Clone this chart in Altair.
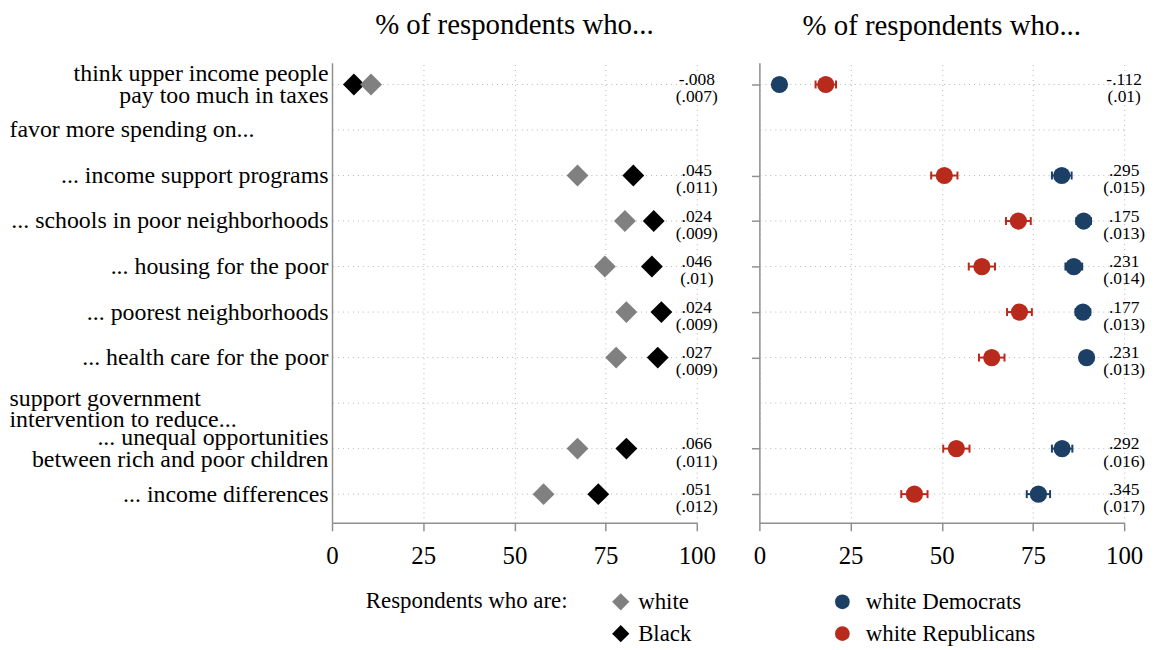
import json
import altair as alt
import pandas as pd

FONT = "Liberation Serif"
AX = "#8f8f8f"
GRID = "#b5b5b5"

# ---------------- data ----------------
rows = [1, 2, 3, 4, 5, 6, 7, 8, 9, 10]
row_labels = [
    "think upper income people\npay too much in taxes",
    "favor more spending on...",
    "... income support programs",
    "... schools in poor neighborhoods",
    "... housing for the poor",
    "... poorest neighborhoods",
    "... health care for the poor",
    "support government\nintervention to reduce...",
    "... unequal opportunities\nbetween rich and poor children",
    "... income differences",
]
header_rows = [2, 8]
data_rows = [1, 3, 4, 5, 6, 7, 9, 10]

race_groups = ["white", "Black"]
white_pct = [10.7, 67.3, 80.3, 74.8, 80.7, 77.9, 67.3, 58.0]
black_pct = [6.0, 82.6, 88.2, 87.7, 90.3, 89.3, 80.7, 73.0]
race_est = ["-.008", ".045", ".024", ".046", ".024", ".027", ".066", ".051"]
race_se = ["(.007)", "(.011)", "(.009)", "(.01)", "(.009)", "(.009)", "(.011)", "(.012)"]

party_groups = ["white Democrats", "white Republicans"]
dem_pct = [5.5, 82.9, 88.9, 86.2, 88.7, 89.7, 83.0, 76.5]
rep_pct = [18.2, 50.7, 71.0, 61.0, 71.3, 63.7, 54.0, 42.5]
dem_ci = [0.8, 2.7, 2.0, 2.3, 2.0, 1.8, 2.8, 3.2]
rep_ci = [2.8, 3.6, 3.4, 3.6, 3.4, 3.5, 3.6, 3.6]
party_est = ["-.112", ".295", ".175", ".231", ".177", ".231", ".292", ".345"]
party_se = ["(.01)", "(.015)", "(.013)", "(.014)", "(.013)", "(.013)", "(.016)", "(.017)"]

title_text = "% of respondents who..."
x_ticks = [0, 25, 50, 75, 100]

# ---------------- tables ----------------
rows_df = pd.DataFrame({"row": rows})
race_df = pd.DataFrame({
    "row": data_rows * 2,
    "group": [race_groups[1]] * len(data_rows) + [race_groups[0]] * len(data_rows),
    "pct": black_pct + white_pct,
})
race_ann = pd.DataFrame({"row": data_rows, "est": race_est, "se": race_se})

party_df = pd.DataFrame({
    "row": data_rows * 2,
    "group": [party_groups[0]] * len(data_rows) + [party_groups[1]] * len(data_rows),
    "pct": dem_pct + rep_pct,
    "ci": dem_ci + rep_ci,
})
party_df["lo"] = party_df["pct"] - party_df["ci"]
party_df["hi"] = party_df["pct"] + party_df["ci"]
party_ann = pd.DataFrame({"row": data_rows, "est": party_est, "se": party_se})

# ---------------- shared settings ----------------
W, H = 367, 463
xs = alt.Scale(domain=[0, 100], nice=False, zero=True)
ys = alt.Scale(domain=[0.52, 10.63], reverse=True, nice=False, zero=False)

xaxis = alt.Axis(
    values=x_ticks, title=None, grid=True, gridDash=[1, 4], gridColor=GRID, gridWidth=1,
    domainColor=AX, domainWidth=1.5, tickColor=AX, tickSize=8, tickWidth=1.5,
    labelFont=FONT, labelFontSize=25, labelColor="black", labelPadding=13, labelFlush=False,
    labelOverlap=False,
)

hdr_test = " || ".join(f"datum.value == {r}" for r in header_rows)
two_line = [r for r, l in zip(rows, row_labels) if "\n" in l]
two_line_data = " || ".join(f"datum.value == {r}" for r in two_line if r not in header_rows)
two_line_hdr = " || ".join(f"datum.value == {r}" for r in two_line if r in header_rows)
label_arr = "[" + ",".join(json.dumps(l.replace("\n", "|")) for l in row_labels) + "]"

yaxis_left = alt.Axis(
    values=rows, title=None, grid=False, ticks=False, domainColor=AX, domainWidth=1.5,
    labelFont=FONT, labelFontSize=24, labelColor="black", labelLimit=600,
    labelOverlap=False,
    labelExpr=f"split({label_arr}[datum.value - 1], '|')", labelLineHeight=22,
    labelBaseline="middle",
    labelAlign={"condition": {"test": hdr_test, "value": "left"}, "value": "right"},
    labelPadding={"condition": {"test": hdr_test, "value": 325}, "value": 4},
    labelOffset={"condition": [{"test": two_line_hdr, "value": -5},
                               {"test": two_line_data, "value": -11}], "value": 0},
)
yaxis_right = alt.Axis(
    values=data_rows, title=None, grid=False, labels=False, ticks=True, tickSize=8,
    tickColor=AX, tickWidth=1.5, domainColor=AX, domainWidth=1.5,
)


def title_params():
    return alt.TitleParams(title_text, font=FONT, fontSize=29, fontWeight="normal",
                           color="black", anchor="middle", offset=22)


def panel(yaxis, point_layers, ann):
    yenc = alt.Y("row:Q", scale=ys, axis=yaxis)
    grid = alt.Chart(rows_df).mark_rule(strokeDash=[1, 4], color=GRID, strokeWidth=1).encode(
        y=yenc
    )
    est = alt.Chart(ann).mark_text(font=FONT, fontSize=17.5, align="center", baseline="middle",
                                   dy=-4.5, color="black").encode(
        x=alt.X(datum=100, scale=xs, axis=xaxis), y=yenc, text="est:N")
    se = alt.Chart(ann).mark_text(font=FONT, fontSize=17.5, align="center", baseline="middle",
                                  dy=13, color="black").encode(
        x=alt.X(datum=100, scale=xs, axis=xaxis), y=yenc, text="se:N")
    return alt.layer(grid, *[f(yenc) for f in point_layers], est, se).properties(
        width=W, height=H, title=title_params())


race_color = alt.Scale(domain=race_groups, range=["#808080", "#000000"])
party_color = alt.Scale(domain=party_groups, range=["#1c3f66", "#b82a1b"])

race_legend = alt.Legend(
    title="Respondents who are:", orient="none", legendX=34, legendY=531,
    titleOrient="left", titleFont=FONT, titleFontSize=23, titleFontWeight="normal",
    titleColor="black", titlePadding=41, titleAnchor="start", titleBaseline="top",
    titleLimit=400,
    labelFont=FONT, labelFontSize=23, labelColor="black", labelOffset=6,
    symbolType="diamond", symbolSize=300, symbolOpacity=1, symbolStrokeWidth=0,
    rowPadding=8, padding=0,
)
party_legend = alt.Legend(
    title=None, orient="none", legendX=72, legendY=531,
    labelFont=FONT, labelFontSize=23, labelColor="black", labelOffset=12, labelLimit=400,
    symbolType="circle", symbolSize=220, symbolOpacity=1, symbolStrokeWidth=0,
    rowPadding=8, padding=0,
)


def race_points(yenc):
    return alt.Chart(race_df).mark_point(shape="diamond", filled=True, size=484, opacity=1).encode(
        x=alt.X("pct:Q", scale=xs, axis=xaxis), y=yenc,
        color=alt.Color("group:N", scale=race_color, legend=race_legend))


def party_color_enc():
    return alt.Color("group:N", scale=party_color, legend=party_legend)


def party_bars(yenc):
    return alt.Chart(party_df).mark_rule(strokeWidth=2).encode(
        x=alt.X("lo:Q", scale=xs, axis=xaxis), x2="hi:Q", y=yenc, color=party_color_enc())


def party_cap_lo(yenc):
    return alt.Chart(party_df).mark_tick(orient="vertical", size=8, thickness=2, opacity=1).encode(
        x=alt.X("lo:Q", scale=xs, axis=xaxis), y=yenc, color=party_color_enc())


def party_cap_hi(yenc):
    return alt.Chart(party_df).mark_tick(orient="vertical", size=8, thickness=2, opacity=1).encode(
        x=alt.X("hi:Q", scale=xs, axis=xaxis), y=yenc, color=party_color_enc())


def party_points(yenc):
    return alt.Chart(party_df).mark_point(shape="circle", filled=True, size=300, opacity=1).encode(
        x=alt.X("pct:Q", scale=xs, axis=xaxis), y=yenc, color=party_color_enc())


left = panel(yaxis_left, [race_points], race_ann)
right = panel(yaxis_right, [party_bars, party_cap_lo, party_cap_hi, party_points], party_ann)

chart = (
    alt.hconcat(left, right, spacing=63, bounds="flush")
    .resolve_scale(color="independent")
    .resolve_legend(color="independent")
    .properties(padding={"left": 1, "top": 0, "right": 2, "bottom": 2})
    .configure_view(stroke=None)
)

chart.save("out.html", embed_options={"renderer": "svg", "actions": False})
